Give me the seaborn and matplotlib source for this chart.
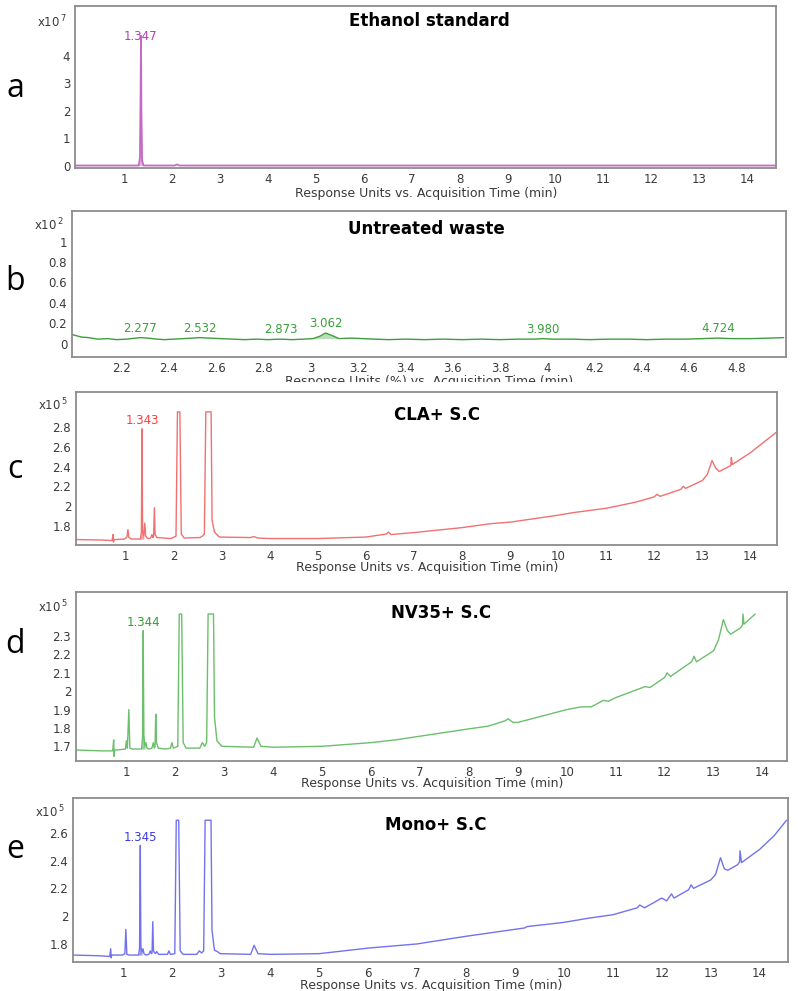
import numpy as np
import pandas as pd
import seaborn as sns
import matplotlib.pyplot as plt
from matplotlib.patches import Rectangle

# ---- data ----
# a: ethanol standard (x10^7)
eth_time = [-0.03, 1.30, 1.325, 1.338, 1.347, 1.356, 1.37, 1.40, 2.05, 2.10, 2.15, 14.6]
eth_resp = [0.02, 0.02, 0.30, 2.50, 4.72, 2.00, 0.20, 0.02, 0.02, 0.06, 0.02, 0.02]

# b: untreated waste (x10^2)
waste_time = [1.99, 2.03, 2.06, 2.10, 2.14, 2.18, 2.22, 2.26, 2.28, 2.31,
              2.35, 2.38, 2.42, 2.46, 2.50, 2.53, 2.57, 2.62, 2.67, 2.72,
              2.77, 2.82, 2.87, 2.92, 2.97, 3.01, 3.04, 3.062, 3.09, 3.12,
              3.17, 3.22, 3.27, 3.33, 3.40, 3.48, 3.56, 3.64, 3.72, 3.80,
              3.88, 3.95, 3.98, 4.02, 4.10, 4.18, 4.26, 4.34, 4.42, 4.50,
              4.58, 4.66, 4.72, 4.78, 4.86, 4.94, 5.00]
waste_resp = [0.09, 0.065, 0.06, 0.045, 0.05, 0.04, 0.045, 0.055, 0.06, 0.055,
              0.045, 0.04, 0.045, 0.05, 0.055, 0.06, 0.055, 0.05, 0.045, 0.04,
              0.045, 0.04, 0.045, 0.04, 0.045, 0.05, 0.075, 0.105, 0.08, 0.05,
              0.055, 0.05, 0.045, 0.04, 0.045, 0.04, 0.045, 0.04, 0.045, 0.04,
              0.045, 0.045, 0.05, 0.045, 0.045, 0.04, 0.045, 0.045, 0.04, 0.045,
              0.045, 0.05, 0.055, 0.05, 0.05, 0.055, 0.06]
waste_peaks = [2.277, 2.532, 2.873, 3.062, 3.980, 4.724]
waste_peak_resp = [0.06, 0.06, 0.045, 0.105, 0.05, 0.055]

# c: CLA + S.C (x10^5)
cla_time = [-0.03, 0.50, 0.72, 0.74, 0.75, 0.76, 0.80,
            0.98, 1.03, 1.05, 1.07, 1.12,
            1.31, 1.33, 1.343, 1.355, 1.38, 1.40, 1.42, 1.46,
            1.52, 1.55, 1.57, 1.585, 1.60, 1.615, 1.65, 1.80, 1.95,
            2.05, 2.08, 2.13, 2.16, 2.22,
            2.55, 2.60, 2.64, 2.67, 2.78, 2.80, 2.85, 2.95,
            3.60, 3.67, 3.75, 4.00, 5.00, 6.00, 6.42, 6.47, 6.52,
            7.00, 8.00, 8.60, 9.00, 10.00, 10.30, 11.00, 11.60, 12.00, 12.05, 12.12,
            12.55, 12.60, 12.65, 13.00, 13.10, 13.20, 13.28, 13.35,
            13.55, 13.59, 13.60, 13.62, 14.00, 14.55]
cla_resp = [1.665, 1.66, 1.655, 1.715, 1.64, 1.665, 1.665,
            1.67, 1.69, 1.765, 1.685, 1.67,
            1.67, 1.74, 2.78, 1.74, 1.70, 1.83, 1.70, 1.675,
            1.68, 1.715, 1.685, 1.70, 1.985, 1.72, 1.685, 1.68, 1.675,
            1.70, 2.95, 2.95, 1.72, 1.68,
            1.685, 1.70, 1.72, 2.95, 2.95, 1.86, 1.74, 1.69,
            1.685, 1.695, 1.68, 1.675, 1.675, 1.69, 1.72, 1.74, 1.715,
            1.735, 1.785, 1.825, 1.84, 1.91, 1.935, 1.98, 2.04, 2.095, 2.12, 2.10,
            2.17, 2.20, 2.18, 2.26, 2.32, 2.46, 2.38, 2.35,
            2.40, 2.41, 2.49, 2.42, 2.54, 2.75]

# d: NV35 + S.C (x10^5)
nv_time = [-0.03, 0.50, 0.72, 0.74, 0.75, 0.76, 0.80,
           0.98, 1.00, 1.02, 1.05, 1.07, 1.12,
           1.31, 1.33, 1.344, 1.355, 1.38, 1.40, 1.42, 1.46,
           1.52, 1.55, 1.57, 1.585, 1.60, 1.615, 1.65, 1.80, 1.90, 1.93, 1.96,
           2.05, 2.08, 2.13, 2.16, 2.22,
           2.50, 2.55, 2.60, 2.64, 2.67, 2.78, 2.80, 2.85, 2.95,
           3.60, 3.67, 3.75, 4.00, 5.00, 6.00, 6.50,
           7.00, 8.00, 8.40, 8.75, 8.80, 8.90, 9.00, 9.50, 10.00, 10.30, 10.50,
           10.75, 10.85, 11.00, 11.60, 11.70, 12.00, 12.05, 12.12,
           12.55, 12.60, 12.65, 13.00, 13.10, 13.20, 13.28, 13.35,
           13.55, 13.59, 13.60, 13.62, 13.85]
nv_resp = [1.68, 1.675, 1.675, 1.735, 1.645, 1.68, 1.68,
           1.685, 1.73, 1.69, 1.90, 1.69, 1.685,
           1.685, 1.75, 2.33, 1.76, 1.70, 1.72, 1.69, 1.685,
           1.69, 1.72, 1.69, 1.70, 1.875, 1.72, 1.69, 1.685, 1.69, 1.72, 1.69,
           1.70, 2.42, 2.42, 1.72, 1.69,
           1.69, 1.72, 1.70, 1.72, 2.42, 2.42, 1.86, 1.73, 1.70,
           1.695, 1.745, 1.70, 1.695, 1.70, 1.72, 1.735,
           1.755, 1.795, 1.81, 1.84, 1.85, 1.83, 1.83, 1.865, 1.90, 1.915, 1.915,
           1.95, 1.945, 1.965, 2.025, 2.02, 2.075, 2.10, 2.08,
           2.16, 2.19, 2.16, 2.22, 2.28, 2.39, 2.33, 2.31,
           2.345, 2.36, 2.42, 2.365, 2.42]

# e: Mono + S.C (x10^5)
mono_time = [-0.03, 0.50, 0.72, 0.74, 0.75, 0.76, 0.80,
             0.98, 1.03, 1.05, 1.07, 1.12,
             1.31, 1.33, 1.345, 1.355, 1.38, 1.40, 1.42, 1.46,
             1.52, 1.55, 1.57, 1.585, 1.60, 1.615, 1.65, 1.68, 1.72, 1.90, 1.93, 1.96,
             2.05, 2.08, 2.13, 2.16, 2.22,
             2.50, 2.55, 2.60, 2.64, 2.67, 2.79, 2.81, 2.86, 2.92, 2.98,
             3.60, 3.67, 3.75, 4.00, 5.00, 6.00,
             7.00, 8.00, 9.00, 9.20, 9.25, 10.00, 10.50, 11.00, 11.50, 11.55, 11.65,
             12.00, 12.10, 12.20, 12.25,
             12.55, 12.60, 12.65, 13.00, 13.10, 13.20, 13.28, 13.35,
             13.55, 13.59, 13.60, 13.63, 14.00, 14.30, 14.55]
mono_resp = [1.72, 1.715, 1.71, 1.765, 1.70, 1.72, 1.72,
             1.72, 1.73, 1.905, 1.725, 1.72,
             1.72, 1.77, 2.51, 1.78, 1.74, 1.765, 1.73, 1.72,
             1.725, 1.75, 1.73, 1.735, 1.96, 1.75, 1.73, 1.745, 1.725, 1.725, 1.75, 1.725,
             1.73, 2.69, 2.69, 1.75, 1.725,
             1.725, 1.75, 1.735, 1.75, 2.69, 2.69, 1.90, 1.755, 1.745, 1.73,
             1.725, 1.79, 1.73, 1.725, 1.73, 1.77,
             1.80, 1.855, 1.905, 1.915, 1.925, 1.955, 1.985, 2.01, 2.06, 2.08, 2.06,
             2.13, 2.11, 2.16, 2.13,
             2.19, 2.225, 2.20, 2.26, 2.30, 2.42, 2.34, 2.33,
             2.37, 2.39, 2.47, 2.385, 2.48, 2.58, 2.69]

# ---- figure ----
sns.set_style("white")
plt.rcParams['font.family'] = ['DejaVu Sans']

W, H = 798, 991
fig = plt.figure(figsize=(W / 100, H / 100), dpi=100)
fig.patch.set_facecolor('white')
FS = 8.5      # tick labels / peak labels
FS_X = 9      # axis captions
FS_T = 12     # panel titles


def box(l, t, r, b):
    return [l / W, 1 - b / H, (r - l) / W, (b - t) / H]


def style_axes(ax):
    for s in ax.spines.values():
        s.set_visible(True)
        s.set_color('#8c8c8c')
        s.set_linewidth(1.3)
    ax.tick_params(axis='both', direction='out', length=2.5, width=1,
                   color='#8c8c8c', labelsize=FS, labelcolor='#3a3a3a', pad=1)
    ax.set_xlabel('')
    ax.set_ylabel('')


def draw_trace(ax, t, r, color, lw=1.0):
    df = pd.DataFrame({'time': t, 'response': r})
    sns.lineplot(data=df, x='time', y='response', ax=ax, color=color,
                 linewidth=lw, estimator=None, sort=False)
    return df


def shade(ax, df, lo, hi, color, alpha=0.45):
    sub = df[(df.time >= lo) & (df.time <= hi)]
    ax.fill_between(sub.time, sub.response, sub.response.min(),
                    color=color, alpha=alpha, linewidth=0)


def exponent(ax, yfrac, power):
    ax.text(-0.011, yfrac, 'x10$^{\\,' + str(power) + '}$', transform=ax.transAxes,
            ha='right', va='center', fontsize=FS, color='#3a3a3a')


panels = [
    dict(rect=box(75, 6, 776, 168), letter='a', ly=97, xl_y=193, xl_x=426,
         xlabel='Response Units vs. Acquisition Time (min)'),
    dict(rect=box(72, 211, 786, 357), letter='b', ly=290, xl_y=382, xl_x=429,
         xlabel='Response Units (%) vs. Acquisition Time (min)'),
    dict(rect=box(76, 392, 777, 545), letter='c', ly=478, xl_y=568, xl_x=427,
         xlabel='Response Units vs. Acquisition Time (min)'),
    dict(rect=box(76, 592, 787, 761), letter='d', ly=653, xl_y=784, xl_x=432,
         xlabel='Response Units vs. Acquisition Time (min)'),
    dict(rect=box(73, 798, 788, 962), letter='e', ly=858, xl_y=985, xl_x=431,
         xlabel='Response Units vs. Acquisition Time (min)'),
]
axes = [fig.add_axes(p['rect']) for p in panels]
int_ticks = list(range(1, 15))

# a
ax = axes[0]
df = draw_trace(ax, eth_time, eth_resp, '#c46ac4', lw=1.3)
shade(ax, df, 1.30, 1.40, '#c46ac4', 0.5)
ax.set_xlim(-0.03, 14.6)
ax.set_ylim(-0.07, 5.8)
ax.set_yticks([0, 1, 2, 3, 4, 5])
ax.set_yticklabels(['0', '1', '2', '3', '4', ''])
ax.set_xticks(int_ticks)
ax.annotate('1.347', (1.347, 4.72), xytext=(0, -5), textcoords='offset points',
            ha='center', va='bottom', fontsize=FS, color='#b040b0')
ax.text(0.506, 0.91, 'Ethanol standard', transform=ax.transAxes, ha='center',
        va='center', fontsize=FS_T, fontweight='bold', color='black')
exponent(ax, 0.90, 7)

# b
ax = axes[1]
df = draw_trace(ax, waste_time, waste_resp, '#3e9e3e', lw=1.0)
shade(ax, df, 3.01, 3.12, '#3e9e3e', 0.35)
ax.set_xlim(1.99, 5.01)
ax.set_ylim(-0.13, 1.30)
ax.set_yticks([0, 0.2, 0.4, 0.6, 0.8, 1.0, 1.2])
ax.set_yticklabels(['0', '0.2', '0.4', '0.6', '0.8', '1', ''])
bt = [2.2, 2.4, 2.6, 2.8, 3.0, 3.2, 3.4, 3.6, 3.8, 4.0, 4.2, 4.4, 4.6, 4.8]
ax.set_xticks(bt)
ax.set_xticklabels([f'{v:g}' for v in bt])
for pk, pr in zip(waste_peaks, waste_peak_resp):
    ax.annotate(f'{pk:.3f}', (pk, pr), xytext=(0, 2), textcoords='offset points',
                ha='center', va='bottom', fontsize=FS, color='#3aa03a')
ax.text(0.497, 0.88, 'Untreated waste', transform=ax.transAxes, ha='center',
        va='center', fontsize=FS_T, fontweight='bold', color='black')
exponent(ax, 0.904, 2)

# c, d, e
trace_sets = [
    (cla_time, cla_resp, '#f27070', '#ff3a3a', '1.343', 1.343, 2.78,
     (1.61, 3.15), [1.8, 2.0, 2.2, 2.4, 2.6, 2.8], ['1.8', '2', '2.2', '2.4', '2.6', '2.8'],
     (-0.03, 14.55), 'CLA+ S.C', (0.515, 0.85)),
    (nv_time, nv_resp, '#6cbf6c', '#2e9e2e', '1.344', 1.344, 2.33,
     (1.62, 2.54), [1.7, 1.8, 1.9, 2.0, 2.1, 2.2, 2.3, 2.4],
     ['1.7', '1.8', '1.9', '2', '2.1', '2.2', '2.3', ''],
     (-0.03, 14.5), 'NV35+ S.C', (0.513, 0.876)),
    (mono_time, mono_resp, '#7272ee', '#3a3ae0', '1.345', 1.345, 2.51,
     (1.67, 2.85), [1.8, 2.0, 2.2, 2.4, 2.6], ['1.8', '2', '2.2', '2.4', '2.6'],
     (-0.03, 14.58), 'Mono+ S.C', (0.508, 0.835)),
]
for ax, (t, r, col, lcol, lab, pk, pr, ylim, yt, ytl, xlim, title, tpos) in zip(axes[2:], trace_sets):
    df = draw_trace(ax, t, r, col, lw=1.0)
    shade(ax, df, 1.31, 1.38, lcol, 0.5)
    ax.set_xlim(*xlim)
    ax.set_ylim(*ylim)
    ax.set_yticks(yt)
    ax.set_yticklabels(ytl)
    ax.set_xticks(int_ticks)
    ax.annotate(lab, (pk, pr), xytext=(0, 1), textcoords='offset points',
                ha='center', va='bottom', fontsize=FS, color=lcol)
    ax.text(tpos[0], tpos[1], title, transform=ax.transAxes, ha='center',
            va='center', fontsize=FS_T, fontweight='bold', color='black')
    exponent(ax, 0.912, 5)

for ax, p in zip(axes, panels):
    style_axes(ax)
    fig.text(p['xl_x'] / W, 1 - p['xl_y'] / H, p['xlabel'], ha='center', va='center',
             fontsize=FS_X, color='#3a3a3a')
    fig.text(15 / W, 1 - p['ly'] / H, p['letter'], ha='center', va='baseline',
             fontsize=23, family=['Open Sans', 'DejaVu Sans'], color='black')

# the next image in the composite covers the lower half of panel b's axis label
fig.add_artist(Rectangle((0, 1 - 391 / H), 1, 8.5 / H, transform=fig.transFigure,
                         facecolor='white', edgecolor='none', zorder=5))

fig.savefig('out.png', dpi=100, facecolor='white')
